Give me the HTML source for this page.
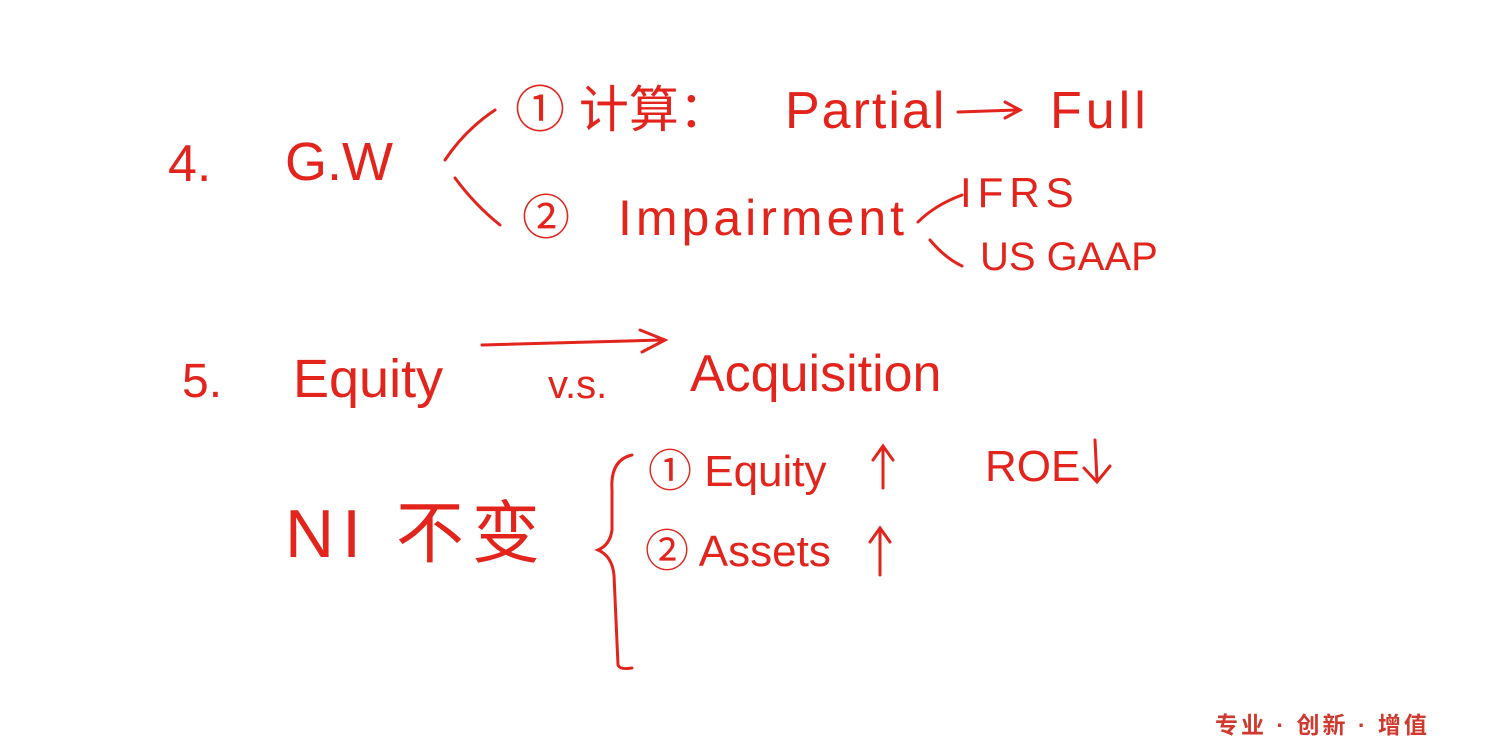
<!DOCTYPE html>
<html><head><meta charset="utf-8"><style>
html,body{margin:0;padding:0;background:#fff;}
#c{position:relative;width:1500px;height:750px;overflow:hidden;background:#fff;}
.t{position:absolute;color:#e3241c;font-family:"Liberation Sans","Noto Sans CJK SC",sans-serif;white-space:nowrap;line-height:1;}
svg{position:absolute;left:0;top:0;}
</style></head><body><div id="c">
<svg width="1500" height="750" fill="none" stroke="#e3241c" stroke-width="3" stroke-linecap="round">
<path d="M445 160 Q465 130 495 110"/>
<path d="M455 178 Q475 205 500 225"/>
<path d="M918 222 Q935 205 962 195"/>
<path d="M930 240 Q945 258 962 266"/>
<path d="M958 112 L1018 110 M1005 102 L1020 110 L1005 118"/>
<path d="M482 345 L662 340"/>
<path d="M640 330 L665 340 L642 352"/>
<path d="M632 455 Q610 460 612 490 L612 530 Q610 545 598 550 Q612 556 614 575 L618 665 Q620 670 632 668"/>
<path d="M883 488 L883 448 M873 460 L883 446 L893 460"/>
<path d="M880 575 L880 530 M870 542 L880 528 L890 542"/>
<path d="M1095 440 L1097 480 M1084 468 L1097 482 L1110 466"/>
</svg>
<div class="t" style="left:168px;top:138px;font-size:52px;">4.</div>
<div class="t" style="left:285px;top:135px;font-size:54px;">G.W</div>
<div class="t" style="left:515px;top:85px;font-size:50px;">① 计算：</div>
<div class="t" style="left:785px;top:85px;font-size:52px;letter-spacing:2px;">Partial</div>
<div class="t" style="left:1050px;top:85px;font-size:52px;letter-spacing:4px;">Full</div>
<div class="t" style="left:522px;top:195px;font-size:48px;">②</div>
<div class="t" style="left:618px;top:193px;font-size:50px;letter-spacing:4px;">Impairment</div>
<div class="t" style="left:960px;top:172px;font-size:42px;letter-spacing:6px;">IFRS</div>
<div class="t" style="left:980px;top:237px;font-size:40px;">US GAAP</div>
<div class="t" style="left:182px;top:358px;font-size:48px;">5.</div>
<div class="t" style="left:293px;top:352px;font-size:54px;">Equity</div>
<div class="t" style="left:548px;top:365px;font-size:40px;">v.s.</div>
<div class="t" style="left:690px;top:348px;font-size:52px;">Acquisition</div>
<div class="t" style="left:648px;top:450px;font-size:44px;">① Equity</div>
<div class="t" style="left:985px;top:445px;font-size:44px;">ROE</div>
<div class="t" style="left:285px;top:500px;font-size:68px;letter-spacing:8px;">NI 不变</div>
<div class="t" style="left:645px;top:530px;font-size:44px;">② Assets</div>
<div class="t" style="left:1215px;top:714px;font-size:23px;font-weight:bold;letter-spacing:3px;color:#d0392e;">专业 · 创新 · 增值</div>
</div></body></html>
